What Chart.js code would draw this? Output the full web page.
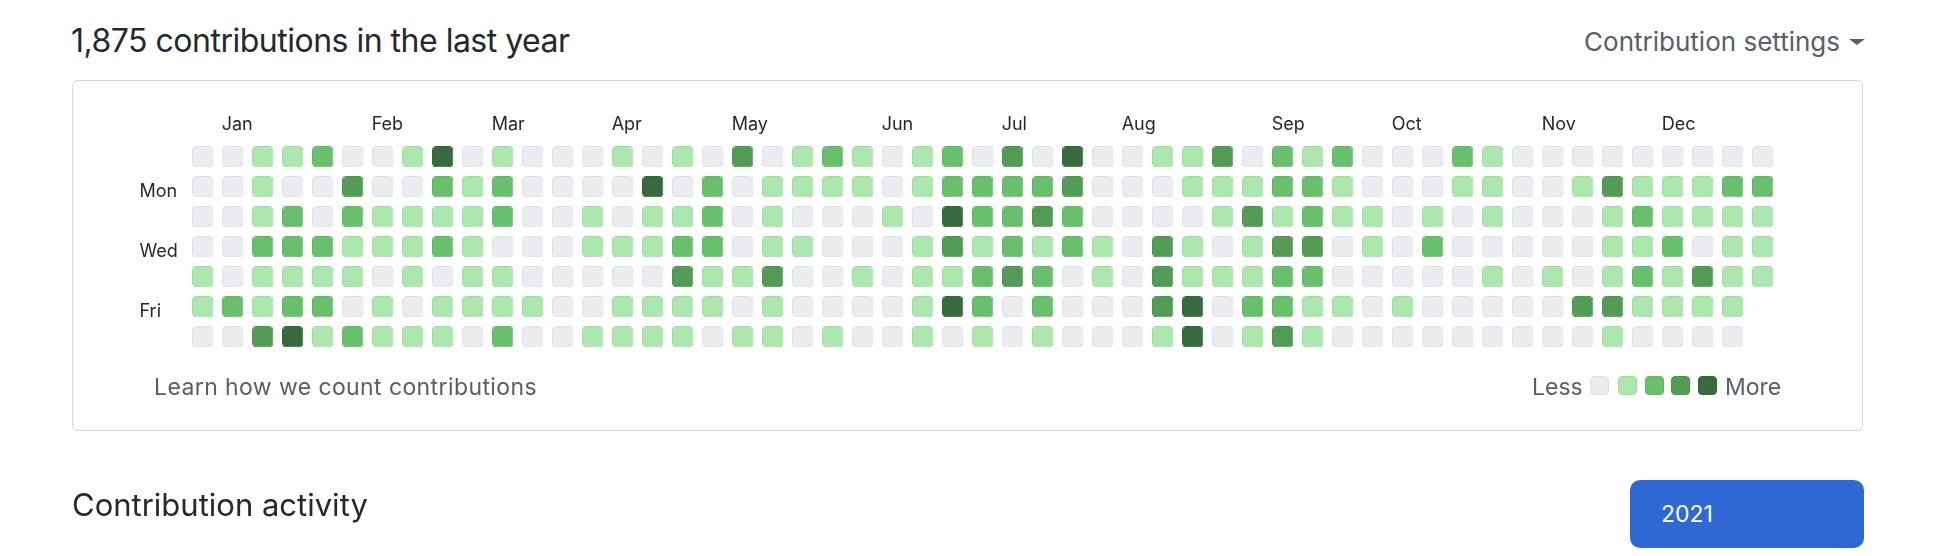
<!DOCTYPE html>
<html>
<head>
<meta charset="utf-8">
<script src="https://cdn.jsdelivr.net/npm/chart.js@4.4.0/dist/chart.umd.min.js"></script>
<style>
  html, body { margin: 0; padding: 0; background: #fff; }
  body {
    width: 1934px; height: 556px; position: relative; overflow: hidden;
    font-family: Inter, "Liberation Sans", sans-serif; color: #24292f;
  }
  .abs { position: absolute; line-height: 1; white-space: nowrap; }
  #box {
    position: absolute; left: 72px; top: 80px; width: 1791px; height: 351px;
    box-sizing: border-box; border: 1px solid #d0d7de; border-radius: 6px;
  }
  #wrap { position: absolute; left: 0; top: 0; width: 1934px; height: 556px; }
  .sq {
    position: absolute; top: 376px; width: 19px; height: 19px;
    box-sizing: border-box; border-radius: 4px; border: 1px solid;
  }
  #caret {
    position: absolute; left: 1849px; top: 39px; width: 0; height: 0;
    border-left: 8px solid transparent; border-right: 8px solid transparent;
    border-top: 6px solid #57606a;
  }
  #btn {
    position: absolute; left: 1630px; top: 480px; width: 234px; height: 68px;
    background: #2f68d4; border-radius: 10px;
  }
</style>
</head>
<body>

<div class="abs" style="left:71px; top:25px; font-size:32px; letter-spacing:-0.5px;">1,875 contributions in the last year</div>
<div class="abs" style="right:94px; top:29px; font-size:26px; color:#57606a;">Contribution settings</div>
<div id="caret"></div>

<div id="box"></div>
<div id="wrap"><canvas id="calendar"></canvas></div>

<div class="abs" style="left:154px; top:376px; font-size:23px; letter-spacing:0.4px; color:#57606a;">Learn how we count contributions</div>
<div class="abs" style="left:1532px; top:376px; font-size:23px; color:#57606a;">Less</div>
<div id="legend"></div>
<div class="abs" style="left:1725px; top:376px; font-size:23px; color:#57606a;">More</div>

<div class="abs" style="left:72px; top:489px; font-size:31px;">Contribution activity</div>
<div id="btn"></div>
<div class="abs" style="left:1661px; top:503px; font-size:23px; color:#fff;">2021</div>

<script>
// ---- 数据：每一行是一周中的一天，每列是一周（0 = 无贡献, 4 = 最多）----
const WEEK_COUNT = 53;
const dayLabels = ['', 'Mon', '', 'Wed', '', 'Fri', ''];
const monthNames = ['Jan', 'Feb', 'Mar', 'Apr', 'May', 'Jun', 'Jul', 'Aug', 'Sep', 'Oct', 'Nov', 'Dec'];
const monthStartWeek = [1, 6, 10, 14, 18, 23, 27, 31, 36, 40, 45, 49];

const sun = [0,0,1,1,2,0,0,1,4,0,1,0, 0,0,1,0,1,0,3,0,1,2,1,0,1, 2,0,3,0,4,0,0,1,1,3,0,2,1, 2,0,0,0,2,1,0,0,0,0,0,0,0,0,0];
const mon = [0,0,1,0,0,3,0,0,2,1,2,0, 0,0,0,4,0,2,0,1,1,1,1,0,1, 2,2,2,2,3,0,0,0,1,1,1,2,2, 1,0,0,0,1,1,0,0,1,3,1,1,1,2,2];
const tue = [0,0,1,2,0,2,1,1,1,1,2,0, 0,1,0,1,1,2,0,1,0,0,0,1,0, 4,2,2,3,2,0,0,0,0,1,3,1,2, 1,1,0,1,0,1,0,0,0,1,2,1,1,1,1];
const wed = [0,0,2,2,2,1,1,1,2,1,0,0, 0,1,1,1,2,2,0,1,1,0,0,0,1, 3,1,2,1,2,1,0,3,1,0,1,3,3, 0,1,0,2,0,0,0,0,0,1,1,2,0,1,1];
const thu = [1,0,1,1,1,1,0,1,0,1,1,0, 0,0,0,0,3,1,1,3,0,0,1,0,1, 1,2,3,2,0,1,0,3,1,1,1,2,2, 0,0,0,0,0,1,0,1,0,1,2,1,3,1,1];
const fri = [1,2,1,2,2,0,1,0,1,1,1,1, 0,0,1,1,1,1,0,1,0,0,0,0,1, 4,2,0,2,0,0,0,3,4,0,2,2,1, 1,0,1,0,0,0,0,0,3,3,1,1,1,1,null];
const sat = [0,0,3,4,1,2,1,1,1,0,2,0, 0,1,1,1,1,0,1,1,0,1,0,0,1, 0,1,0,1,0,0,0,1,4,0,1,3,1, 0,0,0,0,0,0,0,0,0,1,0,0,0,0,null];

const levelFill   = ['#ebecf0', '#ace7ae', '#69c06c', '#529c56', '#376b3e'];
const levelBorder = ['#dfe1e5', '#a0dca3', '#61b765', '#4c9450', '#33653a'];

// ---- 图例小方块 ----
const legendX = [1590, 1618, 1644.5, 1671, 1698];
const legendEl = document.getElementById('legend');
legendX.forEach((x, i) => {
  const d = document.createElement('div');
  d.className = 'sq';
  d.style.left = x + 'px';
  d.style.background = levelFill[i];
  d.style.borderColor = levelBorder[i];
  legendEl.appendChild(d);
});

// ---- 构建数据集：每天一个 dataset，用浮动柱子画格子 ----
const rows = [sun, mon, tue, wed, thu, fri, sat];
const HALF = 0.355; // 格子高度的一半（以行为单位）

const weekLabels = new Array(WEEK_COUNT).fill('');
monthStartWeek.forEach((w, i) => { weekLabels[w] = monthNames[i]; });

const datasets = rows.map((levels, day) => ({
  label: dayLabels[day] || ('day' + day),
  data: levels.map(l => (l === null ? null : [day - HALF, day + HALF])),
  backgroundColor: levels.map(l => levelFill[l ?? 0]),
  borderColor: levels.map(l => levelBorder[l ?? 0]),
  borderWidth: 1,
  borderRadius: 4,
  borderSkipped: false,
  grouped: false,
  categoryPercentage: 1,
  barPercentage: 0.711
}));

new Chart(document.getElementById('calendar'), {
  type: 'bar',
  data: { labels: weekLabels, datasets },
  options: {
    responsive: true,
    maintainAspectRatio: false,
    animation: false,
    layout: { padding: { left: 139.5, right: 156.33, top: 100, bottom: 204.33 } },
    plugins: {
      legend: { display: false },
      tooltip: { enabled: false }
    },
    scales: {
      x: {
        position: 'top',
        grid: { display: false, drawTicks: false, tickLength: 0 },
        border: { display: false },
        afterFit: (axis) => { axis.height = 41.67; },
        ticks: {
          autoSkip: false,
          maxRotation: 0,
          minRotation: 0,
          align: 'start',
          labelOffset: -11,
          padding: 6,
          color: '#24292f',
          font: { family: 'Inter', size: 18 }
        }
      },
      y: {
        type: 'linear',
        min: -0.5,
        max: 6.5,
        reverse: true,
        grid: { display: false, drawTicks: false, tickLength: 0 },
        border: { display: false },
        afterFit: (axis) => { axis.width = 48.17; },
        afterBuildTicks: (axis) => { axis.ticks = [1, 3, 5].map(v => ({ value: v })); },
        ticks: {
          crossAlign: 'far',
          labelOffset: 5,
          color: '#24292f',
          font: { family: 'Inter', size: 18 },
          callback: (v) => dayLabels[v] || ''
        }
      }
    }
  }
});
</script>
</body>
</html>
